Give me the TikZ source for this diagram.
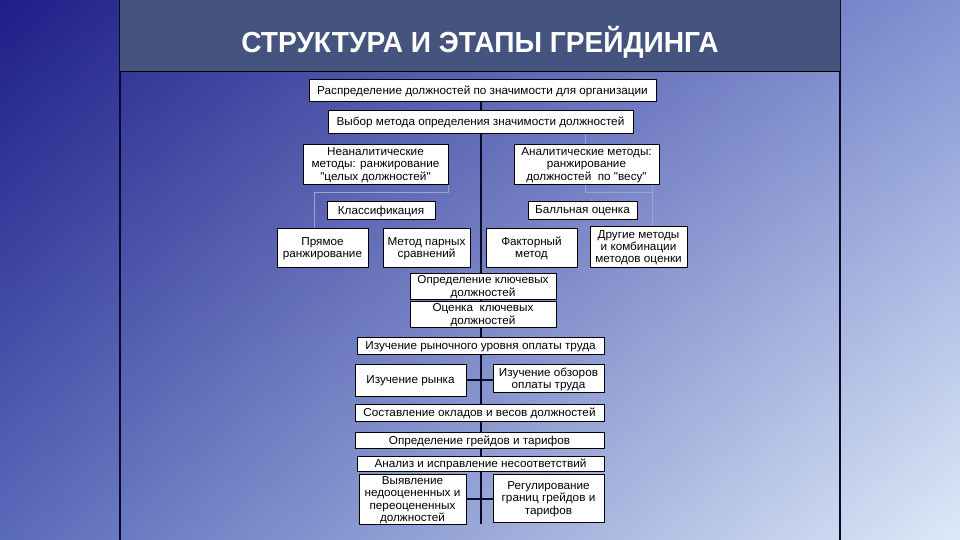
\documentclass[tikz,border=0pt]{standalone}
\usepackage{fontspec}
\setmainfont{Liberation Sans}
\newfontfamily\boxfont{Liberation Sans}[FakeStretch=1.02]
\newfontfamily\titlefont{Liberation Sans}[FakeStretch=0.97]
\usetikzlibrary{positioning,backgrounds,shadings}
\definecolor{bgtl}{RGB}{30,30,135}
\definecolor{bgtr}{RGB}{130,146,210}
\definecolor{bgbl}{RGB}{90,106,186}
\definecolor{bgbr}{RGB}{220,234,248}
\definecolor{titlebar}{RGB}{68,84,126}
\definecolor{spinecol}{RGB}{10,10,40}
\definecolor{faintcol}{RGB}{150,165,215}
\tikzset{
  box/.style={draw=black, fill=white, align=center, inner sep=1pt, line width=0.8pt,
    text depth=-4pt, font=\boxfont\fontsize{11.5}{12.2}\selectfont},
  sz/.style 2 args={minimum width=#1, minimum height=#2},
  spine/.style={draw=spinecol, line width=1.8pt},
  faintline/.style={draw=faintcol, line width=1pt},
  titletext/.style={text=white, font=\titlefont\bfseries\fontsize{29}{32}\selectfont}
}

\begin{document}
\begin{tikzpicture}[x=1pt, y=-1pt]
\useasboundingbox (0,0) rectangle (960,540);

% title bar
\fill[titlebar] (120,0) rectangle (840,72);
\draw[black, line width=1pt] (120,72) -- (840,72);
\node[titletext] (title) at (480,42) {СТРУКТУРА И ЭТАПЫ ГРЕЙДИНГА};

% methods
\node[box, sz={347}{22}] (distrib) at (482.5,90) {Распределение должностей по значимости для организации};
\node[box, sz={305}{23}] (method) at (480.5,121.5) {Выбор метода определения значимости должностей};
\node[box, sz={145}{40}] (nonanal) at (375.5,164) {Неаналитические\\методы: ранжирование\\"целых должностей"};
\node[box, sz={145}{40}] (anal) at (586.5,164) {Аналитические методы:\\ранжирование\\должностей~ по "весу"};
\node[box, sz={108}{18}] (classif) at (381,210) {Классификация};
\node[box, sz={109}{18}] (points) at (582.5,210) {Балльная оценка};
\node[box, sz={91}{39}] (direct) at (322.5,247.5) {Прямое\\ранжирование};
\node[box, sz={87}{39}] (paired) at (426.5,247.5) {Метод парных\\сравнений};
\node[box, sz={91}{39}] (factor) at (531.5,247.5) {Факторный\\метод};
\node[box, sz={97}{41}] (other) at (638.5,246.5) {Другие методы\\и комбинации\\методов оценки};

% stages
\node[box, sz={146}{26}] (keydef) at (483,286) {Определение ключевых\\должностей};
\node[box, sz={146}{26}] (keyeval) at (483,314) {Оценка~ ключевых\\должностей};
\node[box, sz={247}{17}] (marketlvl) at (480.5,345.5) {Изучение рыночного уровня оплаты труда};
\node[box, sz={111}{32}] (market) at (410.5,380) {Изучение рынка};
\node[box, sz={111}{28}] (surveys) at (548.5,378) {Изучение обзоров\\оплаты труда};
\node[box, sz={249}{17}] (salaries) at (479.5,412.5) {Составление окладов и весов должностей};
\node[box, sz={249}{16}] (grades) at (479.5,440) {Определение грейдов и тарифов};
\node[box, sz={247}{15}] (analysis) at (480.5,463.5) {Анализ и исправление несоответствий};
\node[box, sz={107}{50}] (misvalued) at (412.5,499) {Выявление\\недооцененных и\\переоцененных\\должностей};
\node[box, sz={111}{48}] (bounds) at (548.5,498) {Регулирование\\границ грейдов и\\тарифов};

\coordinate (spineend) at (481,524);
\coordinate (ltee) at (314,192);
\coordinate (rtee) at (585,192);
\coordinate (rfork) at (652,192);

\begin{pgfonlayer}{background}
\shade[upper left=bgtl, upper right=bgtr, lower left=bgbl, lower right=bgbr] (0,0) rectangle (960,540);
\draw[spinecol, line width=1.4pt] (120,0) -- (120,540) (840,0) -- (840,540);
% connectors
\draw[faintline] (nonanal.south east) |- (ltee) -- (ltee |- direct.north);
\draw[faintline] (rtee |- method.south) -- (rtee) -- (rfork);
\draw[faintline] (rfork |- anal.south) -- (rfork |- other.north);
\draw[spine] (spineend |- distrib.south) -- (spineend);
\draw[spine] (market.east) -- (market.east -| surveys.west);
\draw[spine] (misvalued.east) -- (misvalued.east -| bounds.west);
\end{pgfonlayer}
\end{tikzpicture}
\end{document}
